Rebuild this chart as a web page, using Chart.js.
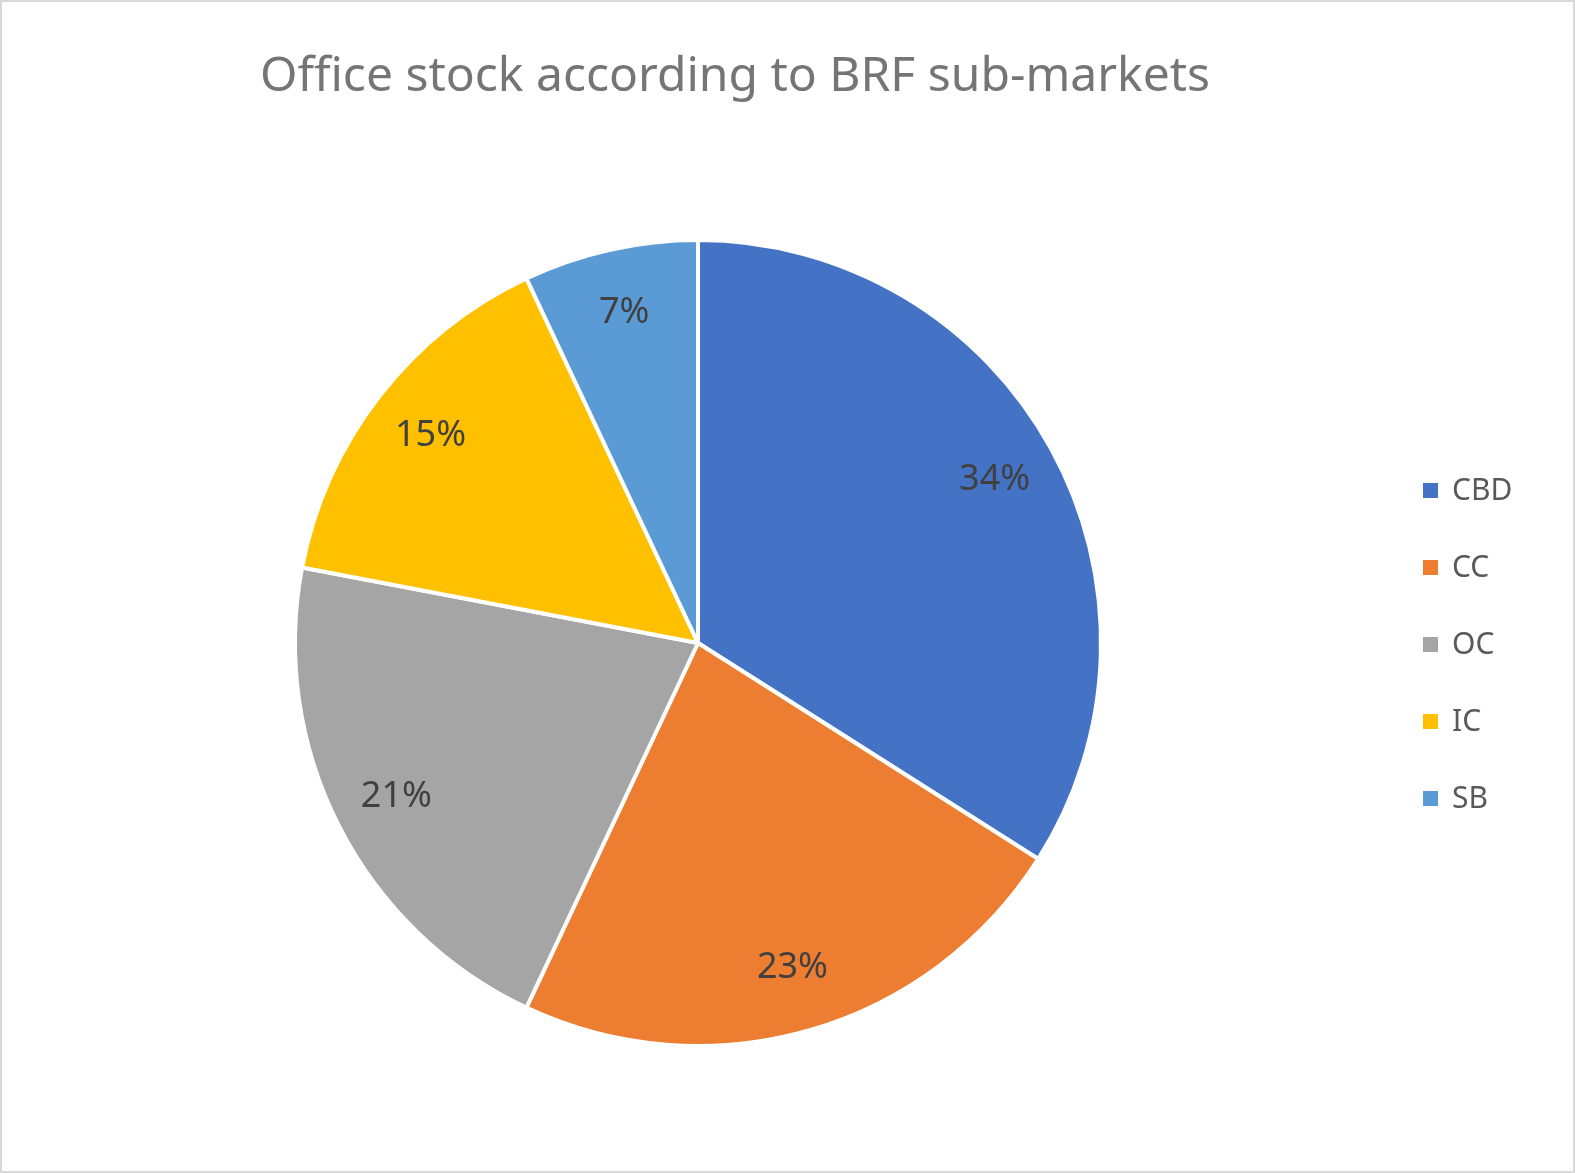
<!DOCTYPE html>
<html><head><meta charset="utf-8">
<script src="https://cdn.jsdelivr.net/npm/chart.js@4/dist/chart.umd.min.js"></script>
<style>html,body{margin:0;padding:0;background:#fff}#w{width:1575px;height:1173px;position:relative;box-sizing:border-box;border:2px solid #d9d9d9}</style>
</head><body><div id="w"><canvas id="c"></canvas></div>
<script>
const categories = ["CBD","CC","OC","IC","SB"];
const values = [34,23,21,15,7];
const labels = ["34%","23%","21%","15%","7%"];
const colors = ["#4472C4","#ED7D31","#A5A5A5","#FFC000","#5B9BD5"];
const title = "Office stock according to BRF sub-markets";
const FONT = "'Noto Sans', 'Open Sans', sans-serif";
const deco = {
  id:'deco',
  afterDraw(chart){
    const ctx = chart.ctx;
    ctx.save();
    ctx.fillStyle = '#757575';
    ctx.font = "48px " + FONT;
    ctx.textAlign = 'center'; ctx.textBaseline = 'middle';
    ctx.fillText(title, 733, 75);
    const meta = chart.getDatasetMeta(0);
    ctx.font = "36px " + FONT;
    ctx.fillStyle = '#404040';
    meta.data.forEach((arc,i)=>{
      const p = arc.getProps(['x','y','startAngle','endAngle','outerRadius'],true);
      const a = (p.startAngle+p.endAngle)/2, r = p.outerRadius*0.84;
      ctx.fillText(labels[i], p.x+Math.cos(a)*r, p.y+Math.sin(a)*r);
    });
    ctx.font = "30px " + FONT;
    ctx.textAlign = 'left';
    categories.forEach((c,i)=>{
      const y = 489 + i*77;
      ctx.fillStyle = colors[i];
      ctx.fillRect(1421, y-8, 15, 15);
      ctx.fillStyle = '#595959';
      ctx.fillText(c, 1450, y);
    });
    ctx.restore();
  }
};
new Chart(document.getElementById('c'),{
  type:'pie',
  data:{labels:categories,datasets:[{data:values,backgroundColor:colors,borderColor:'#fff',borderWidth:4}]},
  options:{responsive:true,maintainAspectRatio:false,animation:false,
    layout:{padding:{left:291,right:470,top:236,bottom:123}},
    plugins:{legend:{display:false},tooltip:{enabled:false},title:{display:false}}},
  plugins:[deco]
});
</script></body></html>
